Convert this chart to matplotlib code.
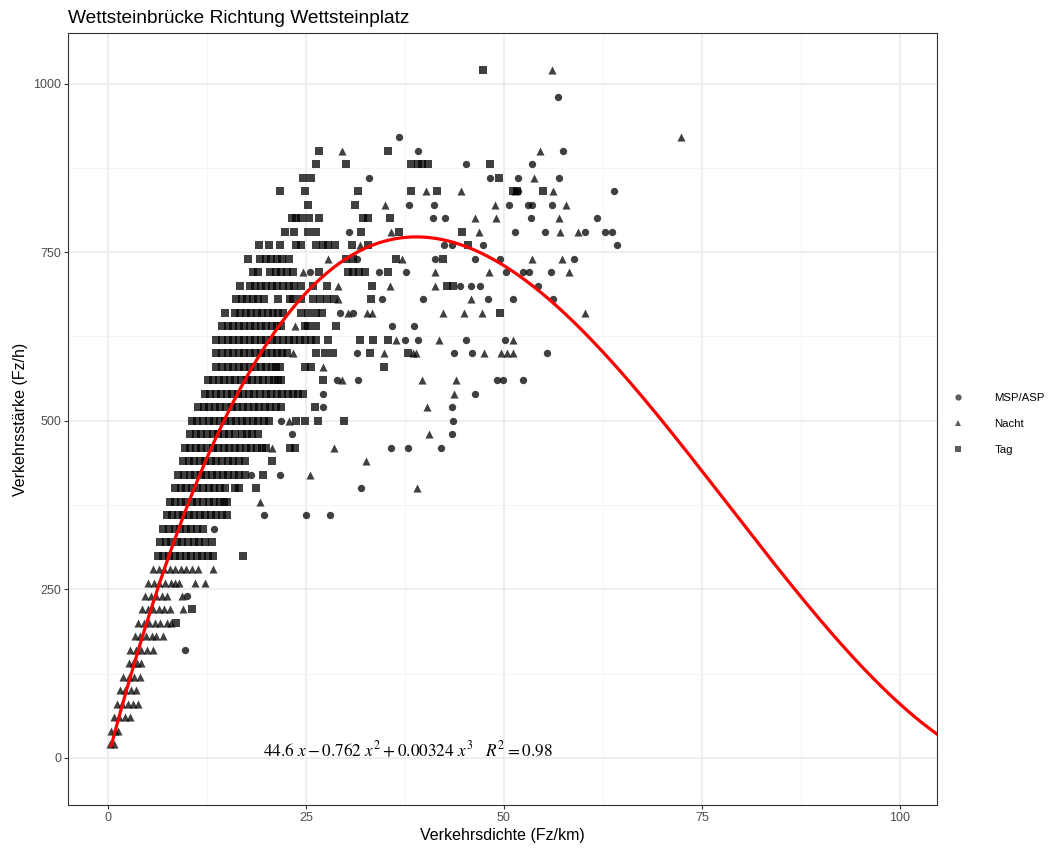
import numpy as np
import matplotlib
matplotlib.use("Agg")
import matplotlib.pyplot as plt
from matplotlib.lines import Line2D

plt.rcParams['font.family'] = ['Liberation Sans', 'DejaVu Sans']
plt.rcParams['mathtext.fontset'] = 'stix'

# fitted polynomial from the annotation
coef = [44.6, -0.762, 0.00324]
r2 = 0.98

# (Verkehrsstaerke level, [Verkehrsdichte values])
tag_rows = [
    (1020, [47.3]),
    (900, [26.6, 35.4]),
    (880, [26.3, 30.1, 38.3, 39.1, 39.7, 40.4, 48.2]),
    (860, [24.6, 25.6, 49.4]),
    (840, [21.7, 24.9, 31.6, 38.3, 41.5, 51.2, 51.6, 55.0]),
    (820, [25.2, 31.2]),
    (800, [23.2, 23.8, 24.4, 25.4, 26.6, 32.2, 32.9, 35.6]),
    (780, [22.3, 23.5, 25.2, 26.3, 32.0, 36.7, 44.7]),
    (760, [19.1, 20.3, 21.7, 23.8, 24.4, 26.3, 27.2, 27.8, 28.7, 30.8, 32.9, 45.5]),
    (740, [17.7, 19.2, 19.9, 20.6, 21.3, 22.0, 22.8, 30.1, 31.0, 36.4, 42.3]),
    (720, [18.3, 18.9, 20.5, 21.2, 21.9, 22.6, 23.4, 26.6, 30.3, 31.0, 31.7, 32.4, 35.4]),
    (700, [16.7, 17.9, 18.6, 19.3, 20.0, 20.7, 21.4, 22.1, 22.8, 23.5, 24.4,
           25.9, 27.7, 33.3, 42.8, 43.6]),
    (680, [16.2, 16.9, 17.6, 18.3, 19.0, 19.7, 21.5, 23.0, 23.4, 24.4, 25.9, 26.8,
           27.7, 28.5, 33.2]),
    (660, [14.8, 16.0, 16.7, 17.4, 18.1, 18.8, 19.5, 20.2, 20.9, 21.5, 22.1, 24.4,
           25.2, 26.3, 27.0, 49.5]),
    (640, [14.4, 15.1, 15.8, 16.5, 17.2, 17.9, 18.6, 19.3, 20.0, 20.7, 21.3, 21.9,
           24.9, 25.3, 26.3, 28.8]),
    (620, [13.7, 14.4, 15.1, 15.8, 16.5, 17.2, 17.9, 18.6, 19.3, 20.0, 20.7, 21.4,
           22.1, 22.8, 23.5, 24.2, 24.9, 25.6, 26.3, 27.8, 31.8, 33.5, 35.4]),
    (600, [13.7, 14.4, 15.1, 15.8, 16.5, 17.2, 17.9, 18.6, 19.3, 20.0, 20.7, 21.4,
           22.0, 22.6, 26.3, 27.4, 28.4, 33.1, 37.9]),
    (580, [13.7, 14.4, 15.1, 15.8, 16.5, 17.2, 17.9, 18.6, 19.3, 20.0, 20.7, 21.2,
           21.7, 24.9, 25.7, 34.9]),
    (560, [12.6, 13.3, 14.0, 14.7, 15.4, 16.1, 16.8, 17.5, 18.2, 18.9, 19.6, 20.3,
           21.0, 21.5, 21.9, 27.1]),
    (540, [12.2, 12.9, 13.6, 14.3, 15.0, 15.7, 16.4, 17.1, 17.8, 18.5, 19.2, 19.9,
           20.6, 21.3, 22.0, 22.7, 23.4, 24.0, 24.6]),
    (520, [11.4, 12.1, 12.8, 13.5, 14.2, 14.9, 15.6, 16.3, 17.0, 17.7, 18.4, 19.1,
           19.8, 20.5, 21.2, 21.9, 26.2]),
    (500, [10.6, 11.3, 12.0, 12.7, 13.4, 14.1, 14.8, 15.5, 16.2, 16.9, 17.6, 18.3,
           19.0, 19.7, 20.3, 23.8, 24.9, 26.5, 29.8]),
    (480, [10.4, 11.1, 11.8, 12.5, 13.2, 13.9, 14.6, 15.3, 16.0, 16.9, 17.5, 18.2, 19.0]),
    (460, [9.7, 10.4, 11.1, 11.8, 12.5, 13.2, 13.9, 14.6, 15.3, 16.0, 16.7, 17.4,
           18.1, 18.8, 19.4, 20.0, 23.0, 23.6]),
    (440, [9.5, 10.2, 10.9, 11.6, 12.3, 13.0, 13.7, 14.4, 15.1, 15.8, 16.5, 17.3, 20.7]),
    (420, [8.9, 9.6, 10.3, 11.0, 11.7, 12.4, 13.1, 13.8, 14.5, 15.2, 15.9, 16.6, 17.3, 19.6]),
    (400, [8.5, 9.2, 9.9, 10.6, 11.3, 12.0, 12.7, 13.4, 14.1, 14.8, 16.0, 16.6, 18.7]),
    (380, [7.8, 8.5, 9.2, 9.9, 10.6, 11.3, 12.0, 12.7, 13.4, 14.1, 14.6, 15.0]),
    (360, [7.4, 8.1, 8.8, 9.5, 10.2, 10.9, 11.6, 12.3, 13.0, 13.7, 14.4, 15.0]),
    (340, [7.0, 7.7, 8.4, 9.1, 9.8, 10.5, 11.2, 12.0]),
    (320, [6.6, 7.3, 8.0, 8.7, 9.4, 10.1, 10.8, 11.5, 12.2, 13.1]),
    (300, [6.3, 7.0, 7.7, 8.4, 9.1, 9.8, 10.5, 11.2, 11.9, 12.6, 13.3, 17.0]),
    (220, [10.6]),
    (200, [8.6]),
]

nacht_rows = [
    (1020, [56.1]),
    (920, [72.4]),
    (900, [29.5, 54.5]),
    (860, [53.8]),
    (840, [40.2, 44.6, 51.4, 56.2]),
    (820, [35.0, 48.9, 57.9]),
    (800, [46.4, 49.0, 57.0]),
    (780, [35.8, 46.8, 57.1, 59.4]),
    (760, [31.8]),
    (740, [27.8, 37.1, 53.6, 57.4]),
    (720, [24.6, 41.3, 48.1, 58.2]),
    (700, [29.0, 35.6, 41.3]),
    (680, [29.1, 45.8]),
    (660, [30.3, 32.7, 33.3, 42.3, 44.9, 47.2, 60.2]),
    (640, [23.6]),
    (620, [36.4, 41.8, 51.2]),
    (600, [23.4, 34.8, 38.5, 38.9, 47.5, 49.6, 50.4, 51.1]),
    (580, [27.2]),
    (560, [29.6, 39.7, 43.9]),
    (540, [43.7]),
    (520, [40.3]),
    (500, [22.8]),
    (480, [40.6]),
    (460, [20.7, 28.6]),
    (440, [32.6]),
    (420, [25.5]),
    (400, [39.0]),
    (380, [19.2]),
    (280, [5.7, 6.4, 7.1, 7.8, 8.5, 9.2, 9.9, 10.6, 11.4, 13.3]),
    (260, [5.1, 5.8, 6.5, 7.2, 7.9, 8.5, 9.0, 11.0, 12.2]),
    (240, [4.7, 5.4, 6.1, 6.8, 7.4, 9.3]),
    (220, [4.3, 5.0, 5.7, 6.4, 7.1, 7.8, 9.5]),
    (200, [3.8, 4.5, 5.2, 5.9, 6.6, 7.4, 8.0]),
    (180, [3.4, 4.1, 4.8, 5.5, 6.1, 7.0]),
    (160, [2.8, 3.5, 4.2, 4.9, 5.7]),
    (140, [2.6, 3.2, 3.7, 4.2]),
    (120, [1.9, 2.6, 3.3, 4.0]),
    (100, [1.5, 2.2, 2.9, 3.6]),
    (80, [1.1, 1.8, 2.5, 3.2, 3.8]),
    (60, [0.7, 1.4, 2.1, 2.8]),
    (40, [0.4, 0.9, 1.3]),
    (20, [0.3, 0.8]),
]

msp_rows = [
    (980, [56.8]),
    (920, [36.7]),
    (900, [39.1, 57.5]),
    (880, [45.2, 53.5]),
    (860, [33.0, 48.3, 51.8, 57.0]),
    (840, [51.8, 63.9]),
    (820, [38.0, 41.2, 50.7, 53.1, 53.6, 56.1]),
    (800, [41.1, 42.6, 53.4, 61.8]),
    (780, [30.5, 51.4, 55.2, 60.3, 62.8, 63.7]),
    (760, [42.5, 43.5, 47.3, 64.3]),
    (740, [31.4, 41.3, 46.3, 49.5, 58.8]),
    (720, [25.5, 34.2, 37.6, 50.3, 52.4, 53.2, 55.9]),
    (700, [44.4, 45.9, 47.0, 54.3]),
    (680, [34.6, 39.8, 48.0, 51.1, 56.2]),
    (660, [29.3, 31.0]),
    (640, [35.9, 38.6]),
    (620, [37.5, 39.2, 45.2, 50.1]),
    (600, [31.5, 43.7, 46.0, 55.4]),
    (560, [28.9, 31.6, 49.1, 49.9, 52.4]),
    (540, [27.1, 46.3]),
    (520, [27.2, 43.4]),
    (500, [21.9, 43.6]),
    (480, [23.3, 43.5]),
    (460, [35.7, 37.9, 42.1]),
    (420, [18.1, 21.7]),
    (400, [32.0]),
    (360, [19.7, 25.0, 28.1]),
    (340, [13.4]),
    (240, [10.0]),
    (160, [9.7]),
]

groups = ["MSP/ASP", "Nacht", "Tag"]
markers = {"MSP/ASP": "o", "Nacht": "^", "Tag": "s"}
sizes = {"MSP/ASP": 28, "Nacht": 34, "Tag": 28}


def flatten(rows):
    xs, ys = [], []
    for y, xl in rows:
        for x in xl:
            xs.append(x)
            ys.append(y)
    return np.array(xs), np.array(ys)


data = {"MSP/ASP": flatten(msp_rows), "Nacht": flatten(nacht_rows), "Tag": flatten(tag_rows)}

fig = plt.figure(figsize=(10.56, 8.48), dpi=100)
ax = fig.add_axes([0.0644, 0.0507, 0.8229, 0.9104])

for g in groups:
    x, y = data[g]
    ax.scatter(x, y, marker=markers[g], s=sizes[g], color="black", alpha=0.75,
               linewidths=0, zorder=3)

xc = np.linspace(0.4, 105, 400)
yc = coef[0] * xc + coef[1] * xc**2 + coef[2] * xc**3
ax.plot(xc, yc, color="#FF0000", lw=2.3, zorder=4)

ax.text(37.9, 12, r"$44.6\ x - 0.762\ x^2 + 0.00324\ x^3\quad R^2 = %.2f$" % r2,
        ha="center", va="center", fontsize=12.4, zorder=5)

ax.set_xlim(-5.05, 104.7)
ax.set_ylim(-70, 1075)
ax.set_xticks([0, 25, 50, 75, 100])
ax.set_yticks([0, 250, 500, 750, 1000])
ax.set_xticks([12.5, 37.5, 62.5, 87.5], minor=True)
ax.set_yticks([125, 375, 625, 875], minor=True)
ax.grid(True, which="major", color="#EBEBEB", lw=1.1, zorder=0)
ax.grid(True, which="minor", color="#F3F3F3", lw=0.6, zorder=0)
ax.set_axisbelow(True)
ax.tick_params(which="major", length=3, color="#333333", labelsize=9,
               labelcolor="#4D4D4D", width=0.8, pad=2)
ax.tick_params(which="minor", length=0)
for s in ax.spines.values():
    s.set_color("#333333")
    s.set_linewidth(0.8)

ax.set_xlabel("Verkehrsdichte (Fz/km)", fontsize=11.5, labelpad=3)
ax.set_ylabel("Verkehrsstärke (Fz/h)", fontsize=11.5, labelpad=4)
ax.set_title("Wettsteinbrücke Richtung Wettsteinplatz", fontsize=13.8, loc="left", pad=7)

handles = [Line2D([], [], marker=markers[g], color="#333333", alpha=0.8, ls="",
                  markersize=np.sqrt(sizes[g]) * 0.85, markeredgewidth=0) for g in groups]
fig.legend(handles, groups, loc="center left", bbox_to_anchor=(0.892, 0.5),
           frameon=False, fontsize=8.2, handletextpad=2.7, labelspacing=1.4,
           handlelength=1.0)

fig.savefig("out.png", dpi=100)
